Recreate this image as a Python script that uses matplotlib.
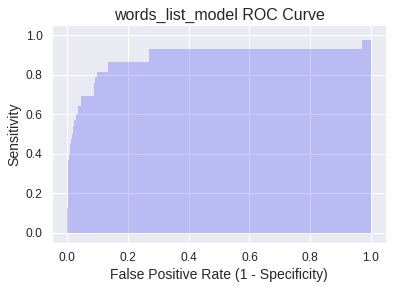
import matplotlib
matplotlib.use("Agg")

import numpy as np
import matplotlib.pyplot as plt
import seaborn as sns

# ROC-punkter lest av bildet (step='post')
fpr = [0.0, 0.003, 0.006, 0.008, 0.010, 0.012, 0.015, 0.019, 0.023, 0.028, 0.035, 0.047,
       0.088, 0.090, 0.093, 0.098, 0.135, 0.270, 0.972, 1.0]
tpr = [0.124, 0.366, 0.400, 0.428, 0.450, 0.474, 0.500, 0.540, 0.572, 0.600, 0.643, 0.694,
       0.760, 0.775, 0.790, 0.812, 0.863, 0.932, 0.978, 1.0]

model_name = 'words_list_model'

sns.set_theme(style='darkgrid')
plt.rcParams['font.family'] = ['Liberation Sans', 'DejaVu Sans']

fig = plt.figure(figsize=(394 / 72, 289 / 72), dpi=72)
ax = fig.add_subplot(111)
fig.subplots_adjust(left=0.132, right=0.980, bottom=0.1606, top=0.912)

ax.fill_between(fpr, tpr, step='post', alpha=0.2, color='#0000ff', linewidth=0)
ax.set_xlabel('False Positive Rate (1 - Specificity)', fontsize=14)
ax.set_ylabel('Sensitivity', fontsize=14)
ax.tick_params(labelsize=12)
ax.set_title(model_name + ' ROC Curve', fontsize=16)

fig.savefig('out.png', dpi=72)
